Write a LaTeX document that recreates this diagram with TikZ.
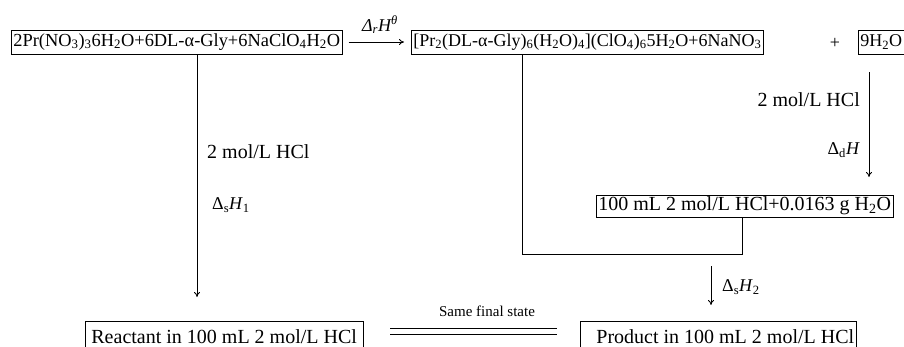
\documentclass[tikz,border=0pt]{standalone}
\usepackage{fontspec}
\setmainfont{Liberation Serif}
\usetikzlibrary{arrows.meta}
\begin{document}
\begin{tikzpicture}[x=1pt,y=-1pt,
  font=\fontsize{18}{21}\selectfont,
  big/.style={font=\fontsize{20}{23}\selectfont},
  box/.style={draw, line width=0.8pt, inner xsep=2pt, inner ysep=2pt, minimum height=24pt},
  lab/.style={inner sep=0pt},
  conn/.style={line width=0.8pt},
  arr/.style={line width=0.8pt, -{To[length=5pt,width=6pt]}}]
\useasboundingbox (0,0) rectangle (904,346);
\clip (0,0) rectangle (904,346);
% top row
\node[box, anchor=west, font=\fontsize{18.4}{21}\selectfont] (A) at (11,42) {2Pr(NO\textsubscript{3})\textsubscript{3}6H\textsubscript{2}O+6DL-α-Gly+6NaClO\textsubscript{4}H\textsubscript{2}O};
\node[box, anchor=west] (B) at (411,42) {[Pr\textsubscript{2}(DL-α-Gly)\textsubscript{6}(H\textsubscript{2}O)\textsubscript{4}](ClO\textsubscript{4})\textsubscript{6}5H\textsubscript{2}O+6NaNO\textsubscript{3}};
\node[lab] (plus) at (835,43) {+};
\node[box, anchor=west] (C) at (858,42) {9H\textsubscript{2}O};
\draw[arr] ([xshift=6pt]A.east) -- ([xshift=-7pt]B.west);
\node[lab] (rH) at (380,25) {\itshape Δ\textsubscript{r}H\textsuperscript{θ}};
% left branch
\coordinate (a1) at (197,297);
\draw[arr] (A.south -| a1) -- (a1);
\node[lab, big, anchor=west] (l1) at (207,152) {2 mol/L HCl};
\node[lab, anchor=west] (l2) at (212,205) {Δ\textsubscript{s}\textit{H}\textsubscript{1}};
% dilution box
\node[box, big, anchor=west, minimum height=22pt] (D) at (596,206) {100 mL 2 mol/L HCl+0.0163 g H\textsubscript{2}O};
\coordinate (r0) at (869,72);
\coordinate (r1) at (869,177);
\draw[arr] (r0) -- (r1);
\node[lab, big, anchor=east] (l3) at (860,100) {2 mol/L HCl};
\node[lab, anchor=east] (l4) at (860,150) {Δ\textsubscript{d}\textit{H}};
% middle connector
\coordinate (m1) at (522,254);
\coordinate (m2) at (742,254);
\draw[conn] (B.south -| m1) -- (m1) -- (m2) -- (D.south -| m2);
\coordinate (s0) at (711,266);
\coordinate (s1) at (711,305);
\draw[arr] (s0) -- (s1);
\node[lab, anchor=west] (l5) at (722,287) {Δ\textsubscript{s}\textit{H}\textsubscript{2}};
% bottom row
\node[box, big, anchor=north west, minimum height=30pt, inner xsep=6pt] (R) at (85,321) {Reactant in 100 mL 2 mol/L HCl};
\node[box, big, anchor=north west, minimum height=30pt] (P) at (580,321) {\hspace*{14pt}Product in 100 mL 2 mol/L HCl};
\coordinate (e1) at (390,328);
\coordinate (e2) at (557,328);
\coordinate (e3) at (390,334);
\coordinate (e4) at (557,334);
\draw[conn] (e1) -- (e2);
\draw[conn] (e3) -- (e4);
\node[lab, font=\fontsize{15}{17}\selectfont] (same) at (487,311) {Same final state};
\end{tikzpicture}
\end{document}
